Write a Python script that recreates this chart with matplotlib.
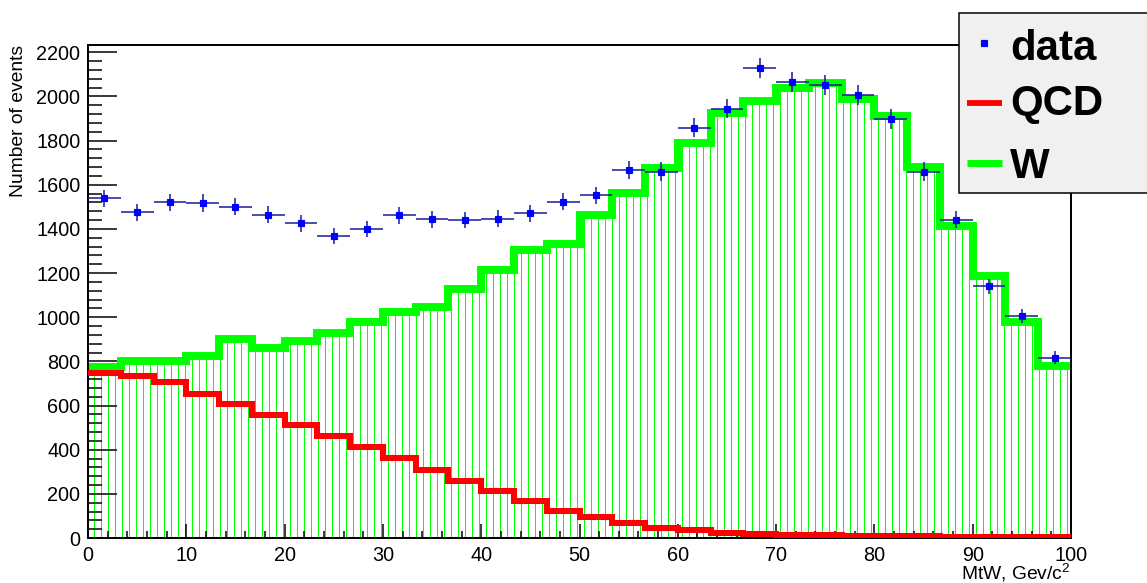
import matplotlib

matplotlib.use("Agg")
import matplotlib.pyplot as plt
import numpy as np
from matplotlib.lines import Line2D
from matplotlib.patches import Rectangle
from matplotlib.ticker import MultipleLocator

plt.rcParams["font.family"] = ["Liberation Sans", "DejaVu Sans"]
plt.rcParams["mathtext.default"] = "regular"
plt.rcParams["hatch.linewidth"] = 0.86  # ~1 px at 84 dpi

# MtW histograms, 30 bins between 0 and 100 GeV/c^2
edges = np.linspace(0, 100, 31)
data = [1538, 1476, 1520, 1517, 1500, 1464, 1426, 1367, 1400, 1462,
        1443, 1440, 1447, 1470, 1523, 1553, 1666, 1660, 1859, 1945,
        2130, 2064, 2050, 2007, 1897, 1660, 1441, 1140, 1004, 817]
data_err = [39, 38, 39, 39, 39, 38, 38, 37, 37, 38,
            38, 38, 38, 38, 39, 39, 41, 41, 43, 44,
            46, 45, 45, 45, 44, 41, 38, 34, 32, 29]
w_mc = [775, 803, 800, 823, 901, 859, 891, 928, 977, 1025,
        1048, 1129, 1212, 1304, 1331, 1461, 1562, 1675, 1788, 1924,
        1980, 2037, 2063, 1989, 1912, 1680, 1414, 1188, 980, 777]
qcd = [747, 735, 705, 654, 609, 557, 511, 462, 413, 361,
       307, 257, 212, 167, 124, 94, 69, 46, 34, 23,
       20, 15, 13, 11, 9, 8, 6, 5, 4, 3]

W, H, DPI = 1147, 583, 84


def fx(x):
    return x / W


def fy(y):
    return 1 - y / H


fig = plt.figure(figsize=(W / DPI, H / DPI), dpi=DPI)
ax = fig.add_axes([fx(88), fy(538), (1071 - 88) / W, (538 - 45) / H])

centers = 0.5 * (edges[:-1] + edges[1:])
half_w = 0.5 * (edges[1] - edges[0])

# W: vertical hatch + thick outline
ax.stairs(w_mc, edges, fill=True, facecolor="none", edgecolor="#00ff00",
          hatch="||", linewidth=0, zorder=1)
ax.stairs(w_mc, edges, baseline=None, color="#00ff00", linewidth=6.8, zorder=2)
# QCD
ax.stairs(qcd, edges, baseline=None, color="#ff0000", linewidth=5.2, zorder=3)
# data
ax.errorbar(centers, data, xerr=half_w, yerr=data_err, fmt="s", ms=5.5,
            mfc="#0000ff", mec="#0000ff", ecolor="#18189a", elinewidth=1.3,
            capsize=0, zorder=5)

ax.set_xlim(0, 100)
ax.set_ylim(0, 2233)
ax.xaxis.set_major_locator(MultipleLocator(10))
ax.xaxis.set_minor_locator(MultipleLocator(2))
ax.yaxis.set_major_locator(MultipleLocator(200))
ax.yaxis.set_minor_locator(MultipleLocator(40))
ax.tick_params(axis="both", which="both", direction="in", top=False,
               right=False, labelsize=17, pad=6.5, width=1.3)
ax.tick_params(axis="y", which="major", length=25)
ax.tick_params(axis="y", which="minor", length=12)
ax.tick_params(axis="x", which="major", length=12)
ax.tick_params(axis="x", which="minor", length=6)
for s in ax.spines.values():
    s.set_linewidth(1.7)

fig.text(fx(19), fy(45), "Number of events", rotation=90, ha="center",
         va="top", fontsize=16.5)
fig.text(fx(1071), fy(580), "MtW, Gev/c$^{2}$", ha="right", va="baseline",
         fontsize=16.5)

# legend box (ROOT TLegend style, sticking out of the canvas)
fig.add_artist(Rectangle((fx(959), fy(193)), (1170 - 959) / W, (193 - 13) / H,
                         transform=fig.transFigure, facecolor="#f0f0f0",
                         edgecolor="black", linewidth=1.3, zorder=10))
fig.add_artist(Line2D([fx(984)], [fy(43)], transform=fig.transFigure,
                      marker="s", ms=5, color="#0000ff", linestyle="none",
                      zorder=11))
fig.add_artist(Line2D([fx(967), fx(1002)], [fy(103)] * 2,
                      transform=fig.transFigure, color="#ff0000",
                      linewidth=5, solid_capstyle="butt", zorder=11))
fig.add_artist(Line2D([fx(967), fx(1002)], [fy(163)] * 2,
                      transform=fig.transFigure, color="#00ff00",
                      linewidth=6, solid_capstyle="butt", zorder=11))
for label, y in [("data", 60), ("QCD", 115), ("W", 178)]:
    fig.text(fx(1010), fy(y), label, fontsize=36, fontweight="bold",
             va="baseline", zorder=12)

fig.savefig("out.png", dpi=DPI, facecolor="white")
